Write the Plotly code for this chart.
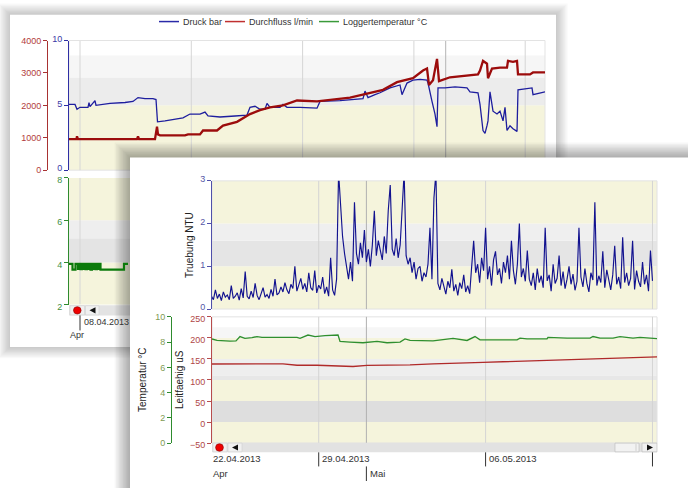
import pandas as pd
import plotly.graph_objects as go

W, H = 688, 488
FONT = "Liberation Sans, Arial, sans-serif"

# ---------------- back chart data (days since 08.04.2013) ----------------
back_base = "2013-04-08"
druck_days = [-0.692, -0.314, -0.189, 0.0, 0.503, 0.566, 0.629, 0.943, 1.006, 1.887,
              2.830, 3.333, 3.648, 4.088, 4.591, 4.780, 4.874, 5.346, 6.478, 6.918,
              7.547, 7.862, 8.050, 8.805, 9.748, 10.503, 10.692, 11.006, 11.321, 11.635,
              11.761, 11.950, 12.579, 12.767, 13.019, 13.836, 14.906, 15.094, 16.352, 17.799,
              17.925, 18.113, 18.553, 18.868, 19.497, 20.126, 20.252, 20.566, 20.943, 21.384,
              21.824, 21.887, 22.138, 22.327, 22.453, 22.516, 22.956, 23.585, 24.340, 24.528,
              25.031, 25.157, 25.346, 25.472, 25.597, 25.660, 25.786, 25.975, 26.226, 26.415,
              26.604, 26.730, 26.855, 27.044, 27.233, 27.484, 27.547, 28.302, 28.428, 28.491,
              28.742, 29.245]
druck_bar = [5.07, 5.07, 4.70, 4.85, 4.85, 5.2, 4.9, 5.37, 5.0, 5.15,
             5.22, 5.3, 5.6, 5.52, 5.52, 5.45, 3.73, 3.8, 4.03, 4.33,
             4.33, 4.48, 4.18, 4.1, 4.18, 4.25, 4.85, 4.93, 4.7, 4.7,
             5.15, 4.85, 4.85, 5.07, 4.85, 4.85, 4.78, 5.3, 5.37, 5.52,
             6.1, 5.6, 5.82, 5.97, 6.34, 6.57, 5.82, 6.72, 6.94, 7.0,
             6.94, 6.72, 5.3, 4.33, 3.36, 6.34, 6.34, 6.42, 6.34, 6.04,
             5.97, 5.07, 3.06, 2.84, 3.43, 3.8, 6.04, 4.55, 4.33, 4.55,
             3.8, 4.85, 3.06, 3.43, 3.2, 2.99, 6.19, 6.34, 6.34, 5.82,
             5.9, 6.04]
durchfluss_days = [-0.692, -0.220, -0.189, -0.126, 3.585, 3.648, 3.711, 4.717, 4.843, 4.906,
                   5.031, 6.604, 6.792, 7.547, 7.736, 8.616, 8.994, 9.874, 10.692, 11.321,
                   11.950, 12.767, 13.648, 14.906, 16.981, 19.057, 19.937, 20.943, 21.572, 21.824,
                   21.950, 22.201, 22.453, 22.579, 23.270, 24.277, 25.031, 25.157, 25.346, 25.597,
                   25.660, 25.912, 26.415, 26.855, 26.918, 27.233, 27.484, 27.547, 28.302, 28.491,
                   29.245]
durchfluss_lmin = [955, 955, 1045, 955, 960, 1045, 960, 960, 1343, 1104,
                   1075, 1075, 1104, 1104, 1224, 1224, 1373, 1492, 1731, 1851,
                   1940, 2000, 2149, 2120, 2239, 2478, 2716, 2836, 3075, 3134,
                   2627, 2776, 3433, 2746, 2866, 2925, 2955, 3075, 3373, 3284,
                   2836, 3134, 3164, 3164, 3373, 3343, 3373, 2955, 2955, 3015,
                   3015]
logger_days = [-0.692, -0.503, -0.472, -0.314, -0.283, -0.189, -0.126, -0.031, 0.031, 0.126,
               0.189, 0.283, 0.346, 0.440, 0.503, 0.597, 0.660, 0.755, 0.818, 0.912,
               0.975, 1.069, 1.132, 1.226, 1.289, 1.384, 2.704, 2.767, 3.02]
logger_temp = [3.93, 3.93, 3.66, 3.66, 3.93, 3.93, 3.70, 3.93, 3.68, 3.93,
               3.70, 3.93, 3.68, 3.93, 3.70, 3.93, 3.66, 3.93, 3.70, 3.93,
               3.68, 3.93, 3.70, 3.93, 3.66, 3.66, 3.66, 3.93, 3.93]

# ---------------- front chart data ----------------
front_base = "2013-04-29"
truebung_start = "2013-04-24 12:00"
truebung_step = "2h"
truebung_ntu = [
    0.30, 0.22, 0.45, 0.25, 0.35, 0.20, 0.40, 0.28, 0.33, 0.22,
    0.55, 0.25, 0.30, 0.38, 0.21, 0.48, 0.26, 0.88, 0.30, 0.24,
    0.42, 0.27, 0.60, 0.32, 0.22, 0.36, 0.50, 0.28, 0.34, 0.25,
    0.46, 0.30, 0.70, 0.33,
    0.38, 0.52, 0.40, 0.62, 0.45, 0.36, 0.58, 0.48, 1.00, 0.42,
    0.55, 0.72, 0.46, 0.60, 0.40, 0.85, 0.50, 0.44, 0.90, 0.38,
    0.56, 0.47, 0.75, 0.36, 0.52, 0.30, 1.20, 0.45, 0.32,
    0.70, 3.20, 2.30, 1.70, 1.30, 1.00, 0.70, 1.10, 0.65, 2.50,
    1.30, 1.05, 1.55, 1.20, 1.85, 1.10, 1.40, 1.00, 1.50, 2.30,
    1.25, 1.60, 1.35, 1.15, 1.70, 1.30, 2.30, 2.90, 1.40, 1.25,
    1.65, 1.20, 1.50, 2.50, 3.20,
    1.25, 1.05, 1.20, 0.85, 1.10, 0.70, 0.95, 1.00, 0.65, 0.85,
    0.75, 1.05, 1.90, 0.70, 2.60, 3.20,
    0.60, 0.45, 0.72, 0.55, 0.35, 0.65, 0.50, 0.93, 0.42, 0.58,
    0.32, 0.62, 0.48, 0.80, 0.40, 0.55, 0.36,
    1.00, 1.60, 0.85, 1.05, 0.62, 1.20, 0.90, 1.90, 0.70, 1.00,
    0.55, 1.15, 1.35, 0.80, 0.95, 0.60, 1.10, 0.85, 1.25, 0.70,
    1.60, 0.90, 0.58, 1.05, 2.00, 0.75, 0.95, 0.65,
    1.37, 0.70, 0.55, 0.85, 0.45, 0.95, 0.62, 0.78, 0.50, 1.90,
    0.66, 0.80, 0.42, 1.05, 0.60, 0.72, 1.25, 0.55, 0.88, 0.48,
    0.70, 1.00, 0.58, 0.82, 0.44, 0.65, 1.90, 0.75, 0.52, 0.95,
    0.60, 0.40, 0.85, 0.68, 2.50, 0.55, 0.78, 0.62, 1.35, 0.50,
    0.92, 0.70, 0.45, 0.80, 1.48, 0.58, 0.75, 0.48, 1.68, 0.62,
    0.85, 0.55, 0.72, 1.60, 0.46, 0.90, 0.65, 0.52, 1.10, 0.58,
    0.80, 0.42, 1.37, 0.66]
temp_days = [-4.476, -4.266, -3.721, -3.469, -3.302, -3.092, -2.798, -2.588, -2.378, -1.623,
             -0.910, -0.784, -0.575, -0.449, -0.155, 0.265, 0.810, 0.894, 1.313, 1.859,
             2.446, 2.865, 3.411, 3.620, 3.830, 4.795, 5.634, 6.221, 6.556, 6.766,
             8.318, 8.444, 8.737, 9.576, 9.618, 10.415, 11.380, 11.506, 11.800, 12.345,
             12.638, 13.184, 13.477, 14.190]
temperatur_c = [8.25, 8.13, 8.08, 8.10, 8.44, 8.30, 8.35, 8.44, 8.38, 8.38,
                8.38, 8.30, 8.45, 8.56, 8.44, 8.52, 8.56, 8.05, 8.00, 7.95,
                8.05, 7.95, 8.00, 8.25, 8.13, 8.10, 8.30, 8.13, 8.44, 8.18,
                8.18, 8.31, 8.25, 8.25, 8.38, 8.31, 8.31, 8.44, 8.31, 8.31,
                8.44, 8.31, 8.38, 8.28]
leit_days = [-4.476, -2.882, -1.498, -0.910, -0.071, 1.439, 2.026, 3.830, 4.795, 6.892,
             8.989, 11.254, 13.184, 14.190]
leitfaehig_us = [138, 138, 138.5, 135, 135, 132, 134.5, 136, 138.5, 142,
                 146, 149, 152.4, 154.7]

legend_names = ["Druck bar", "Durchfluss l/min", "Loggertemperatur °C"]
back_ticks_druck = [0, 5, 10]
back_ticks_fluss = [0, 1000, 2000, 3000, 4000]
back_ticks_logger = [2, 4, 6, 8]
front_ticks_ntu = [0, 1, 2, 3]
front_ticks_leit = [-50, 0, 50, 100, 150, 200, 250]
front_ticks_temp = [0, 2, 4, 6, 8, 10]
back_grid_dates = ["2013-04-08", "2013-04-15", "2013-04-22", "2013-04-29", "2013-05-06"]
back_month_date = "2013-05-01"
front_grid_dates = ["2013-04-29", "2013-05-06", "2013-05-13"]
front_month_date = "2013-05-01"
front_date_labels = [("2013-04-29", "29.04.2013"), ("2013-05-06", "06.05.2013")]


def bt(days):
    return pd.Timestamp(back_base) + pd.to_timedelta(pd.Series(days), unit="D")


def ft(days):
    return pd.Timestamp(front_base) + pd.to_timedelta(pd.Series(days), unit="D")


def tstr(ts):
    return ts.strftime("%Y-%m-%d %H:%M:%S")


def px(x):
    return x / W


def py(y):
    return 1 - y / H


def prect(x0, y0, x1, y1, fill="rgba(0,0,0,0)", lc="rgba(0,0,0,0)", lw=0):
    return dict(type="rect", xref="paper", yref="paper", x0=px(x0), x1=px(x1),
                y0=py(y1), y1=py(y0), fillcolor=fill, line=dict(color=lc, width=lw), layer="below")


def band(yref, x0, x1, v0, v1, fill):
    return dict(type="rect", xref="paper", yref=yref, x0=px(x0), x1=px(x1), y0=v0, y1=v1,
                fillcolor=fill, line=dict(width=0), layer="below")


def vline(xref, xval, y0, y1, color, w=1):
    return dict(type="line", xref=xref, yref="paper", x0=xval, x1=xval, y0=py(y1), y1=py(y0),
                line=dict(color=color, width=w), layer="below")


def pline(x0, y0, x1, y1, color, w=1):
    return dict(type="line", xref="paper", yref="paper", x0=px(x0), x1=px(x1), y0=py(y0), y1=py(y1),
                line=dict(color=color, width=w), layer="below")


def tri(pts, fill):
    d = "M " + " L ".join(f"{px(a):.5f},{py(b):.5f}" for a, b in pts) + " Z"
    return dict(type="path", xref="paper", yref="paper", path=d, fillcolor=fill,
                line=dict(width=0), layer="below")


def circ(cx, cy, r, fill, lc):
    return dict(type="circle", xref="paper", yref="paper", x0=px(cx - r), x1=px(cx + r),
                y0=py(cy + r), y1=py(cy - r), fillcolor=fill, line=dict(color=lc, width=0.6), layer="below")


def shadow(x0, y0, x1, y1, n, step, alpha):
    out = []
    for k in range(n, 0, -1):
        e = k * step
        out.append(prect(x0 - e, y0 - e, x1 + e, y1 + e, f"rgba(0,0,0,{alpha})"))
    return out


BEIGE = "#f5f4dc"
shapes = []
# back card
shapes += shadow(10, 8, 556, 350, 9, 1.3, 0.024)
shapes.append(prect(10, 8, 556, 350, "#ffffff"))
# back top bands (blue scale)
shapes += [band("y", 69, 545, 0, 5, BEIGE), band("y", 69, 545, 5, 7.15, "#ececec"),
           band("y", 69, 545, 7.15, 8.85, "#f6f6f6")]
shapes.append(prect(69, 34.5, 545, 168, lc="#e3e3e3", lw=1))
for d in back_grid_dates:
    shapes.append(vline("x", d, 35, 168, "#d6d6d6"))
shapes.append(vline("x", back_month_date, 35, 168, "#b4b4b4"))
# back bottom bands (logger scale)
shapes += [band("y3", 69, 545, 2, 4, BEIGE), band("y3", 69, 545, 4, 5.15, "#e4e4e4"),
           band("y3", 69, 545, 5.15, 6, "#eeeeee"), band("y3", 69, 545, 6, 8, BEIGE)]
shapes.append(vline("x2", back_grid_dates[0], 176, 306, "#d6d6d6"))
# back scrollbar
shapes.append(prect(69, 307, 140, 317.5, "#e3e3e3"))
shapes.append(prect(70, 307.5, 84.5, 317, "#f0f0f0", "#d0d0d0", 0.6))
shapes.append(prect(85.5, 307.5, 99, 317, "#f0f0f0", "#d0d0d0", 0.6))
shapes.append(circ(77.3, 312.3, 3.8, "#ee0000", "#880000"))
shapes.append(tri([(89.5, 312.3), (95.5, 309), (95.5, 315.6)], "#111111"))
shapes.append(vline("x", back_grid_dates[0], 317.5, 333, "#333333"))
# legend samples
leg_colors = ["#2a2aa8", "#c03030", "#3a9a3a"]
leg_lines = [(159, 179), (225, 245), (319, 339)]
for (a, b), c in zip(leg_lines, leg_colors):
    shapes.append(pline(a, 15, b, 15, c, 1.5))
# front card
shapes += shadow(130, 155, 720, 520, 11, 1.4, 0.03)
shapes.append(prect(130, 155, 720, 520, "#ffffff"))
# front top bands
shapes += [band("y4", 212, 657, 0, 1, BEIGE), band("y4", 212, 657, 1, 1.6, "#e5e5e5"),
           band("y4", 212, 657, 1.6, 2, "#efefef"), band("y4", 212, 657, 2, 3, BEIGE)]
shapes.append(prect(212, 179, 657, 311, lc="#e2e2e2", lw=1))
# front bottom bands
shapes += [band("y5", 212, 657, 200, 225, "#f6f6f6"), band("y5", 212, 657, 150, 200, BEIGE),
           band("y5", 212, 657, 110, 150, "#eeeeee"), band("y5", 212, 657, 100, 110, "#e7e7e7"),
           band("y5", 212, 657, 50, 100, BEIGE), band("y5", 212, 657, 0, 50, "#dedede"),
           band("y5", 212, 657, -50, 0, BEIGE)]
shapes.append(prect(212, 319, 657, 449, lc="#e2e2e2", lw=1))
for d in front_grid_dates:
    shapes.append(vline("x3", d, 179, 311, "#d4d4d4"))
    shapes.append(vline("x4", d, 319, 449, "#d4d4d4"))
shapes.append(vline("x3", front_month_date, 179, 311, "#b0b0b0"))
shapes.append(vline("x4", front_month_date, 319, 449, "#b0b0b0"))
# front scrollbar
shapes.append(prect(212, 448.5, 657, 458.5, "#e2e2e2"))
shapes.append(prect(213, 449, 227, 458, "#f0f0f0", "#d0d0d0", 0.6))
shapes.append(prect(228, 449, 242, 458, "#f0f0f0", "#d0d0d0", 0.6))
shapes.append(circ(219.5, 453.5, 3.9, "#ee0000", "#880000"))
shapes.append(tri([(232, 453.5), (238, 450.3), (238, 456.7)], "#111111"))
shapes.append(prect(615, 449, 639, 458, "#f2f2f2", "#b8b8b8", 0.6))
shapes.append(pline(636, 450, 636, 457, "#b8b8b8", 0.6))
shapes.append(prect(642, 449, 657, 458, "#f0f0f0", "#b8b8b8", 0.6))
shapes.append(tri([(653, 453.5), (647, 450.3), (647, 456.7)], "#111111"))
for d in front_grid_dates:
    shapes.append(vline("x3", d, 458.5, 473, "#333333"))
shapes.append(vline("x3", front_month_date, 473, 488, "#333333"))

# ---------------- traces ----------------
fig = go.Figure()
fig.add_trace(go.Scatter(x=bt(druck_days), y=druck_bar, name=legend_names[0], xaxis="x", yaxis="y",
                         mode="lines", line=dict(color="#1e1e9e", width=1.3)))
fig.add_trace(go.Scatter(x=bt(durchfluss_days), y=durchfluss_lmin, name=legend_names[1], xaxis="x", yaxis="y2",
                         mode="lines", line=dict(color="#9c0c0c", width=2.3)))
fig.add_trace(go.Scatter(x=bt(logger_days), y=logger_temp, name=legend_names[2], xaxis="x2", yaxis="y3",
                         mode="lines", line=dict(color="#0b7a0b", width=2.2, shape="hv")))
tr_x = pd.date_range(truebung_start, periods=len(truebung_ntu), freq=truebung_step)
fig.add_trace(go.Scatter(x=tr_x, y=truebung_ntu, name="Truebung NTU", xaxis="x3", yaxis="y4",
                         mode="lines", line=dict(color="#12128f", width=1.15)))
fig.add_trace(go.Scatter(x=ft(leit_days), y=leitfaehig_us, name="Leitfaehig uS", xaxis="x4", yaxis="y5",
                         mode="lines", line=dict(color="#b02a2a", width=1.3)))
fig.add_trace(go.Scatter(x=ft(temp_days), y=temperatur_c, name="Temperatur °C", xaxis="x4", yaxis="y6",
                         mode="lines", line=dict(color="#2f8f2f", width=1.3)))

back_range = [tstr(bt([-0.692])[0]), tstr(bt([29.245])[0])]
front_range = [tstr(ft([-4.476])[0]), tstr(ft([14.19])[0])]
hidden_x = dict(showline=False, showgrid=False, zeroline=False, showticklabels=False, ticks="")


def yax(domain, rng, ticks, lc, fc, size, **kw):
    d = dict(range=rng, tickvals=ticks, showline=True, linecolor=lc, linewidth=1, ticks="outside",
             ticklen=4, tickcolor=lc, tickwidth=1, showgrid=False, zeroline=False,
             tickfont=dict(family=FONT, size=size, color=fc), fixedrange=True)
    if domain is not None:
        d["domain"] = domain
    d.update(kw)
    return d


fig.update_layout(
    width=W, height=H, margin=dict(l=0, r=0, t=0, b=0),
    paper_bgcolor="#ffffff", plot_bgcolor="rgba(0,0,0,0)", showlegend=False,
    font=dict(family=FONT, size=9, color="#333333"),
    xaxis=dict(domain=[px(69), px(545)], range=back_range, type="date", anchor="y", **hidden_x),
    xaxis2=dict(domain=[px(69), px(545)], range=back_range, type="date", anchor="y3", **hidden_x),
    xaxis3=dict(domain=[px(212), px(657)], range=front_range, type="date", anchor="y4", **hidden_x),
    xaxis4=dict(domain=[px(212), px(657)], range=front_range, type="date", anchor="y5", **hidden_x),
    yaxis=yax([py(168), py(34.5)], [0, 10], back_ticks_druck, "#2f2fa4", "#3a3aa6", 9, anchor="x",
              ticklabelshift=-2),
    yaxis2=yax(None, [0, 4000], back_ticks_fluss, "#a83232", "#b23c3c", 9,
               overlaying="y", anchor="free", position=px(47), side="left"),
    yaxis3=yax([py(306.5), py(176)], [2, 8], back_ticks_logger, "#2e8b2e", "#3f8f3f", 9, anchor="x2",
               ticklabelshift=2),
    yaxis4=yax([py(311), py(179)], [0, 3], front_ticks_ntu, "#5050aa", "#5656a6", 9, anchor="x3",
               ticklabelshift=-2),
    yaxis5=yax([py(449), py(319)], [-50, 250], front_ticks_leit, "#b84c4c", "#b04646", 9, anchor="x4",
               ticklabelshift=2),
    yaxis6=yax(None, [0, 10], front_ticks_temp, "#2e8b2e", "#7f9b52", 9,
               overlaying="y5", anchor="free", position=px(171), side="left"),
    shapes=shapes,
)

ann = []
for (a, b), name in zip(leg_lines, legend_names):
    ann.append(dict(xref="paper", yref="paper", x=px(b + 1.5), y=py(15), text=name, showarrow=False,
                    xanchor="left", yanchor="middle", font=dict(family=FONT, size=9, color="#333333")))
ann.append(dict(xref="x", yref="paper", x=back_grid_dates[0], y=py(324), text="08.04.2013", showarrow=False,
                xanchor="left", yanchor="middle", xshift=2, font=dict(family=FONT, size=9, color="#333333")))
ann.append(dict(xref="paper", yref="paper", x=px(68), y=py(338), text="Apr", showarrow=False,
                xanchor="left", yanchor="middle", font=dict(family=FONT, size=9, color="#333333")))
ann.append(dict(xref="paper", yref="paper", x=px(211), y=py(465), text="22.04.2013", showarrow=False,
                xanchor="left", yanchor="middle", font=dict(family=FONT, size=9.5, color="#333333")))
for d, lab in front_date_labels:
    ann.append(dict(xref="x3", yref="paper", x=d, y=py(465), text=lab, showarrow=False,
                    xanchor="left", yanchor="middle", xshift=1, font=dict(family=FONT, size=9.5, color="#333333")))
ann.append(dict(xref="paper", yref="paper", x=px(211), y=py(480), text="Apr", showarrow=False,
                xanchor="left", yanchor="middle", font=dict(family=FONT, size=9.5, color="#333333")))
ann.append(dict(xref="x3", yref="paper", x=front_month_date, y=py(480), text="Mai", showarrow=False,
                xanchor="left", yanchor="middle", xshift=2, font=dict(family=FONT, size=9.5, color="#333333")))
for txt, xx, yy in [("Truebung NTU", 190, 245), ("Leitfaehig uS", 180, 384), ("Temperatur °C", 143, 384)]:
    ann.append(dict(xref="paper", yref="paper", x=px(xx), y=py(yy), text=txt, showarrow=False, textangle=-90,
                    xanchor="center", yanchor="middle", font=dict(family=FONT, size=10, color="#222222")))
fig.update_layout(annotations=ann)

fig.write_html("out.html", config={"displayModeBar": False},
               post_script="document.body.style.margin='0px';document.body.style.overflow='hidden';")
